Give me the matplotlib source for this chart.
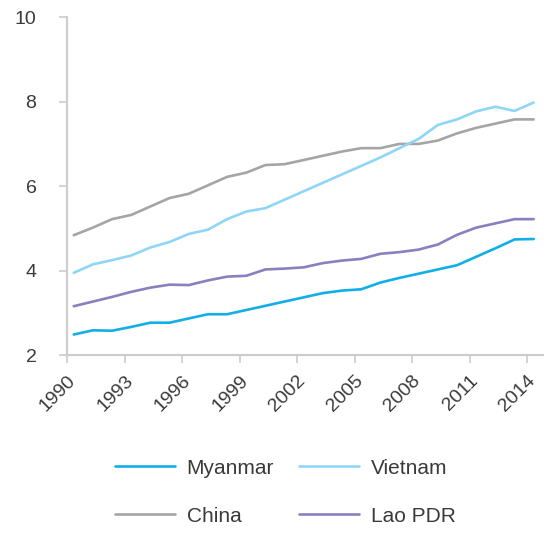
import matplotlib.pyplot as plt

years = list(range(1990, 2015))

myanmar = [2.49, 2.59, 2.58, 2.67, 2.77, 2.77, 2.87, 2.97, 2.97, 3.07,
           3.17, 3.27, 3.37, 3.47, 3.53, 3.56, 3.72, 3.83, 3.93, 4.03,
           4.13, 4.33, 4.53, 4.74, 4.75]
vietnam = [3.95, 4.15, 4.25, 4.36, 4.55, 4.68, 4.87, 4.97, 5.22, 5.40,
           5.48, 5.68, 5.88, 6.08, 6.28, 6.48, 6.68, 6.90, 7.12, 7.45,
           7.58, 7.77, 7.88, 7.78, 7.98]
china = [4.84, 5.02, 5.22, 5.32, 5.52, 5.72, 5.82, 6.02, 6.22, 6.32,
         6.50, 6.52, 6.62, 6.72, 6.82, 6.90, 6.90, 7.00, 7.00, 7.08,
         7.25, 7.38, 7.48, 7.58, 7.58]
lao = [3.16, 3.27, 3.38, 3.50, 3.60, 3.67, 3.66, 3.77, 3.86, 3.88,
       4.03, 4.05, 4.08, 4.18, 4.24, 4.28, 4.40, 4.44, 4.50, 4.62,
       4.85, 5.02, 5.12, 5.22, 5.22]

xticks = [1990, 1993, 1996, 1999, 2002, 2005, 2008, 2011, 2014]
yticks = [2, 4, 6, 8, 10]

plt.rcParams["font.family"] = ["Liberation Sans", "DejaVu Sans"]

fig = plt.figure(figsize=(5.54, 5.35), dpi=100)
ax = fig.add_axes([0.121, 0.336, 0.859, 0.632])

xs = [y + 0.35 for y in years]
series = [
    ("Myanmar", myanmar, "#12aee8"),
    ("China", china, "#a5a5a5"),
    ("Vietnam", vietnam, "#8fd6f6"),
    ("Lao PDR", lao, "#8b7fc0"),
]
for name, vals, color in series:
    ax.plot(xs, vals, color=color, lw=1.9, label=name, solid_capstyle="round")

ax.set_xlim(1990, 2014.83)
ax.set_ylim(2, 10)
ax.set_xticks(xticks)
ax.set_yticks(yticks)
ax.set_xticklabels([str(t) for t in xticks], rotation=45, ha="right",
                   rotation_mode="anchor")
for s in ["top", "right"]:
    ax.spines[s].set_visible(False)
for s in ["left", "bottom"]:
    ax.spines[s].set_color("#cccccc")
    ax.spines[s].set_linewidth(1.5)
ax.tick_params(colors="#cccccc", labelcolor="#3a3a3a", labelsize=14,
               length=6, width=1.2)
ax.tick_params(axis="x", pad=6)
ax.tick_params(axis="y", pad=16)

fig.legend(loc="center", bbox_to_anchor=(0.515, 0.08), ncol=2, frameon=False,
           fontsize=15, handlelength=2.9, columnspacing=1.2,
           labelspacing=1.4, handletextpad=0.55, labelcolor="#3a3a3a")

fig.savefig("out.png", dpi=100)
